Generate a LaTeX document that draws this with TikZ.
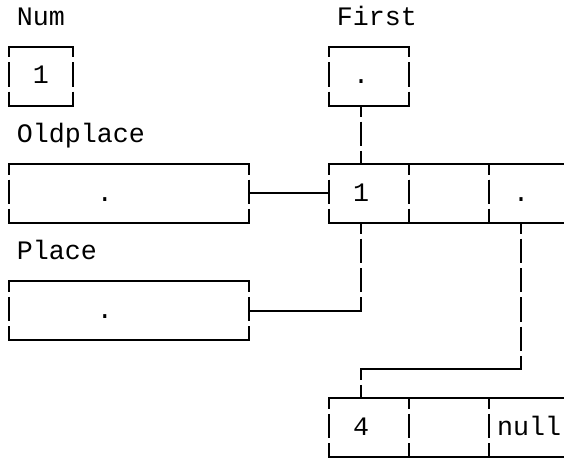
\documentclass[tikz,border=0pt]{standalone}
\usepackage{fontspec}
\setmonofont{Liberation Mono}
\begin{document}
\begin{tikzpicture}[
		x=12pt, y=-21.975pt,
		every node/.style={font=\ttfamily\fontsize{20}{24}\selectfont, inner sep=0pt},
		word/.style={anchor=base, yshift=-5.7pt},
		hline/.style={line width=1.5pt, line cap=rect},
		vline/.style={line width=1.5pt, dash pattern=on 18.225pt off 3.75pt, dash phase=10.24pt},
		cell/.style={minimum width=#1*12pt, minimum height=43.95pt,
			append after command={
				(\tikzlastnode.north west) edge[hline] (\tikzlastnode.north east)
				(\tikzlastnode.south west) edge[hline] (\tikzlastnode.south east)
				(\tikzlastnode.north west) edge[vline] (\tikzlastnode.south west)
				(\tikzlastnode.north east) edge[vline] (\tikzlastnode.south east)
			}}
	]
	\useasboundingbox (-0.5625,-0.604) rectangle (34.6875,15.06);

	% names of the variables
	\node[word] (numlbl) at (2,0) {Num};
	\node[word] (firstlbl) at (23,0) {First};
	\node[word] (oldlbl) at (4.5,4) {Oldplace};
	\node[word] (placelbl) at (3,8) {Place};

	% variable boxes
	\node[cell=4] (numbox) at (2,2) {};
	\node[cell=5] (firstbox) at (22.5,2) {};
	\node[cell=15] (oldbox) at (7.5,6) {};
	\node[cell=15] (placebox) at (7.5,10) {};

	% two list records of three cells
	\foreach \r/\row in {A/6,B/14}
		\foreach \i in {1,2,3}
			\node[cell=5] (rec\r\i) at (17.5+5*\i,\row) {};

	% what the boxes hold
	\node[word] (numval) at (2,2) {1};
	\node[word] (firstptr) at (22,2) {.};
	\node[word] (oldptr) at (6,6) {.};
	\node[word] (placeptr) at (6,10) {.};
	\node[word] (recAval) at (22,6) {1};
	\node[word] (recAptr) at (32,6) {.};
	\node[word] (recBval) at (22,14) {4};
	\node[word] (recBptr) at (32.5,14) {null};

	% pointers
	\coordinate (turn) at (27,12);
	\draw[hline] (oldbox.east) -- (recA1.west);
	\draw[vline] (firstbox.south -| firstptr) -- (recA1.north -| firstptr);
	\draw[vline] (recA1.south -| recAval) -- (placebox.east -| recAval);
	\draw[hline] (placebox.east) -- (placebox.east -| recAval);
	\draw[vline] (recA3.south -| recAptr) -- (recAptr |- turn);
	\draw[hline] (recAptr |- turn) -- (recBval |- turn);
	\draw[vline] (recBval |- turn) -- (recB1.north -| recBval);
\end{tikzpicture}
\end{document}
